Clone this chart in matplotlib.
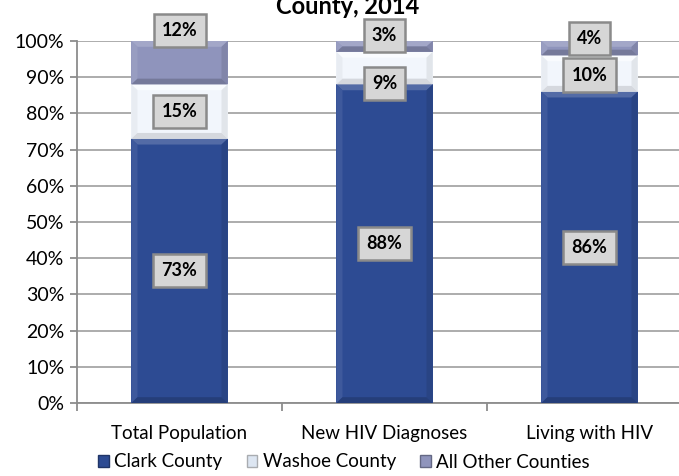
import matplotlib
matplotlib.use("Agg")
import matplotlib.pyplot as plt
from matplotlib.patches import Patch, Polygon
from matplotlib.colors import to_rgb
import numpy as np

plt.rcParams['font.family'] = ['Lato', 'DejaVu Sans']

categories = ["Total Population", "New HIV Diagnoses", "Living with HIV"]
series_names = ["Clark County", "Washoe County", "All Other Counties"]
clark = [73, 88, 86]
washoe = [15, 9, 10]
other = [12, 3, 4]
yticks = [0, 10, 20, 30, 40, 50, 60, 70, 80, 90, 100]

colors = ["#2D4B93", "#F2F6FC", "#8F94BC"]
# label placement offsets (in percentage points) relative to segment center
label_offsets = [
    [0, 0, 0],            # clark
    [0, -4.2, -0.4],      # washoe
    [8.8, 3.0, 2.7],      # other
]


def shade(c, f):
    c = np.array(to_rgb(c))
    if f >= 0:
        return tuple(c + (1 - c) * f)
    return tuple(c * (1 + f))


fig = plt.figure(figsize=(6.79, 4.76), dpi=100)
ax = fig.add_axes([77/679, 1 - 403/476, 615/679, 362/476])

x = np.arange(len(categories))
series = [clark, washoe, other]
bottom = np.zeros(len(categories))
width = 0.47
bx = 0.03   # bevel width in x data units
by = 1.6    # bevel height in y data units
bevel = [(0.18, 0.08, -0.10, -0.18), (0.5, -0.04, -0.07, -0.12), (0.18, 0.08, -0.10, -0.18)]
for i, vals in enumerate(series):
    vals = np.array(vals, dtype=float)
    ax.bar(x, vals, width, bottom=bottom, color=colors[i], edgecolor="none",
           linewidth=0, zorder=3)
    ft, fl, fr, fb = bevel[i]
    for j, v in enumerate(vals):
        x0, x1 = x[j] - width / 2, x[j] + width / 2
        y0, y1 = bottom[j], bottom[j] + v
        h = min(by, v / 2)
        polys = [
            ([(x0, y1), (x1, y1), (x1 - bx, y1 - h), (x0 + bx, y1 - h)], ft),   # top
            ([(x0, y0), (x0, y1), (x0 + bx, y1 - h), (x0 + bx, y0 + h)], fl),   # left
            ([(x1, y0), (x1, y1), (x1 - bx, y1 - h), (x1 - bx, y0 + h)], fr),   # right
            ([(x0, y0), (x1, y0), (x1 - bx, y0 + h), (x0 + bx, y0 + h)], fb),   # bottom
        ]
        for pts, f in polys:
            ax.add_patch(Polygon(pts, closed=True, facecolor=shade(colors[i], f),
                                 edgecolor="none", zorder=4))
        yc = bottom[j] + v / 2 + label_offsets[i][j]
        ax.text(x[j], yc, f"{int(v)}%", ha="center", va="center",
                fontsize=13, fontweight="bold", color="black", zorder=6,
                bbox=dict(boxstyle="square,pad=0.45", facecolor="#D6D6D6",
                          edgecolor="#8A8A8A", linewidth=1.8))
    bottom += vals

ax.set_xlim(-0.5, 2.5)
ax.set_ylim(0, 100)
ax.set_yticks(yticks)
ax.set_yticklabels([f"{t}%" for t in yticks], fontsize=14)
ax.yaxis.grid(True, color="#A6A6A6", linewidth=1.3, zorder=0)
ax.set_axisbelow(True)

ax.set_xticks(x)
ax.set_xticklabels(categories, fontsize=13.5)
ax.tick_params(axis="x", length=0, pad=16)
ax.set_xticks([-0.5, 0.5, 1.5, 2.5], minor=True)
ax.tick_params(axis="x", which="minor", length=6, width=1.3, color="#8C8C8C", direction="out")
ax.tick_params(axis="y", length=5, width=1.3, color="#8C8C8C", pad=4)

for s in ["top", "right"]:
    ax.spines[s].set_visible(False)
for s in ["left", "bottom"]:
    ax.spines[s].set_color("#8C8C8C")
    ax.spines[s].set_linewidth(1.3)

fig.text(348/679, 1 - 14/476, "County, 2014", ha="center", va="baseline",
         fontsize=17, fontweight="bold")

handles = [Patch(facecolor=colors[i] if i != 1 else "#DDE6F2",
                 edgecolor=shade(colors[i], -0.3), label=series_names[i])
           for i in range(3)]
fig.legend(handles=handles, loc="center", bbox_to_anchor=(344/679, 1 - 462/476),
           ncol=3, frameon=False, fontsize=13.5, handlelength=0.55, handleheight=0.55,
           handletextpad=0.3, columnspacing=1.3)

fig.savefig("out.png", dpi=100)
